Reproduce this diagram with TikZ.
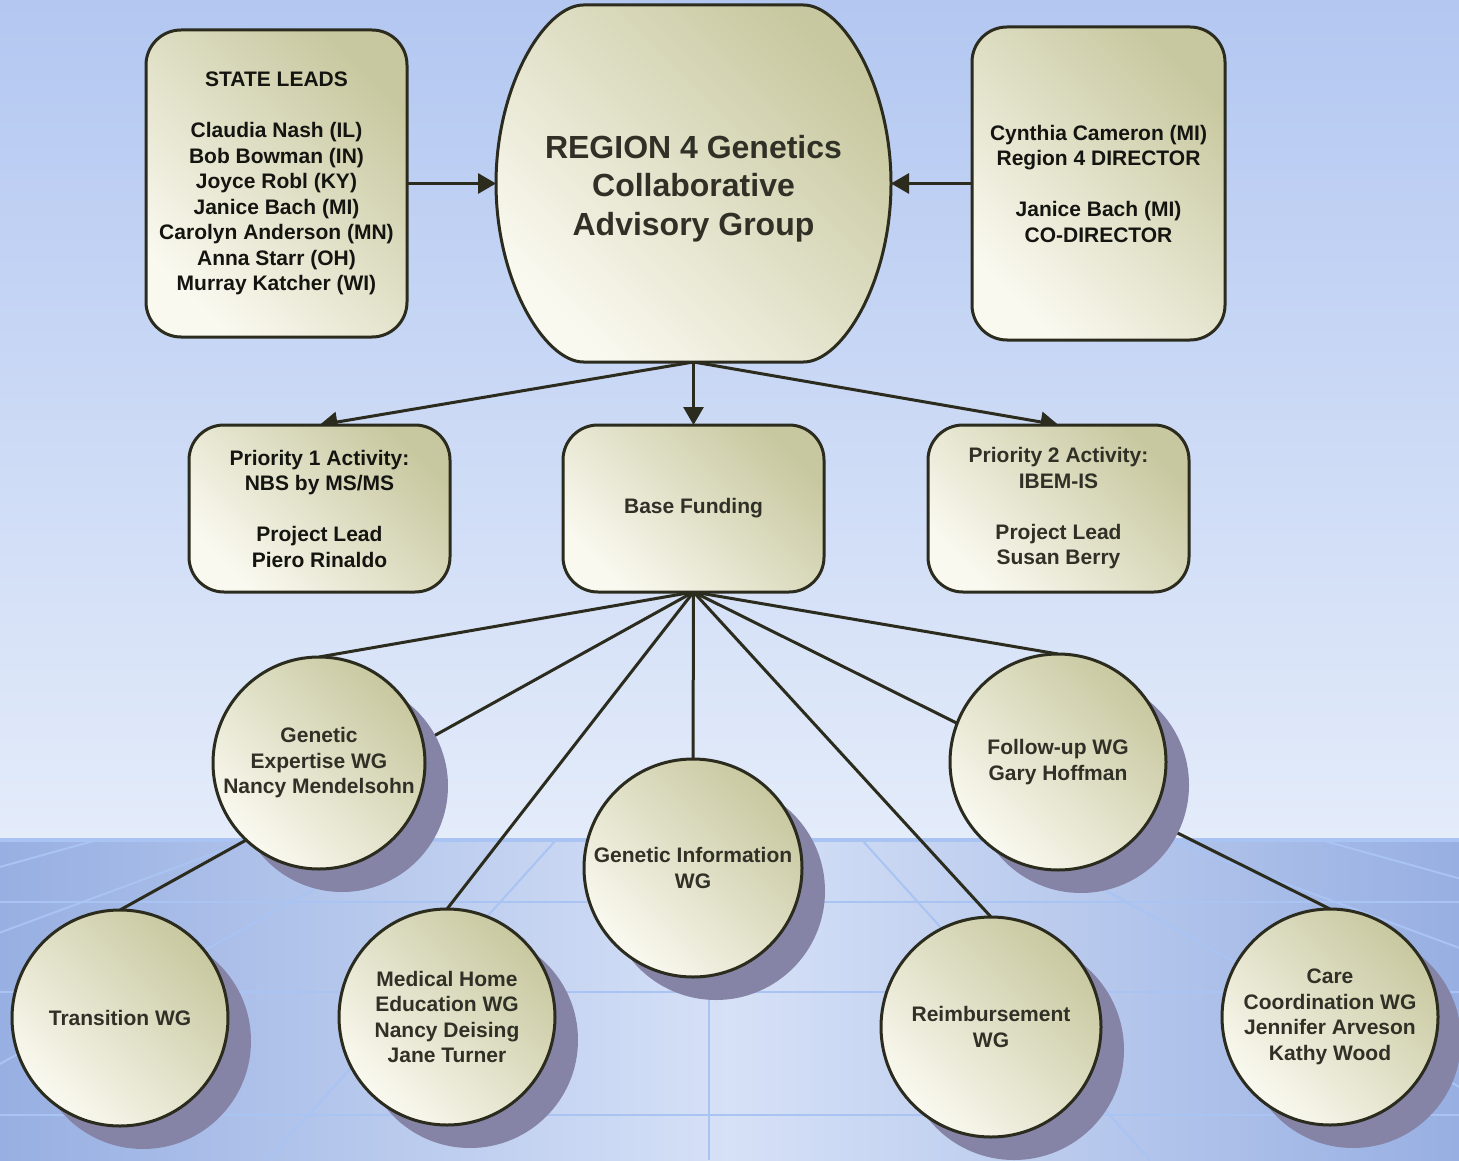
\documentclass[tikz,border=0pt]{standalone}
\usepackage{fontspec}
\setmainfont{Liberation Sans}
\usetikzlibrary{arrows.meta,shadows}
\definecolor{skyTop}{HTML}{B3C7F1}
\definecolor{skyBot}{HTML}{E4ECFA}
\definecolor{floorEdge}{HTML}{97AFE2}
\definecolor{floorMid}{HTML}{D6E1F7}
\definecolor{gridc}{HTML}{A9C3F3}
\definecolor{edgec}{HTML}{2B2B1E}
\definecolor{shadeD}{HTML}{C8C8A0}
\definecolor{shadeM}{HTML}{D8D7B7}
\definecolor{shadeL}{HTML}{FAF9F0}
\definecolor{shadc}{HTML}{8584A7}
\definecolor{txtA}{HTML}{141410}
\definecolor{txtB}{HTML}{303027}
\newcommand\boxfont{\fontsize{10.5}{12.75}\selectfont\bfseries}
\newcommand\titlefont{\fontsize{16}{19.3}\selectfont\bfseries}
\pgfdeclarelayer{floor}
\pgfdeclarelayer{edges}
\pgfsetlayers{floor,edges,main}
\begin{document}
\begin{tikzpicture}[x=0.5pt,y=-0.5pt,
  fillshade/.style={top color=shadeD, middle color=shadeM, bottom color=shadeL, shading angle=-45},
  box/.style={rectangle, draw=edgec, line width=1.5pt, rounded corners=17.5pt, fillshade,
    align=center, font=\boxfont, inner sep=0pt, outer sep=0pt},
  wg/.style={circle, draw=edgec, line width=1.5pt, fillshade,
    drop shadow={shadow xshift=11.5pt, shadow yshift=-11.5pt, fill=shadc, opacity=1},
    align=center, font=\boxfont, text=txtB, inner sep=0pt, outer sep=0pt},
  conn/.style={draw=edgec, line width=1.5pt},
  arr/.style={conn, -{Triangle[length=9pt,width=10pt]}},
  gridline/.style={draw=gridc, line width=1pt}]
\useasboundingbox (0,0) rectangle (1459,1160);
% background
\begin{pgfonlayer}{floor}
  \shade[top color=skyTop, bottom color=skyBot] (0,0) rectangle (1459,840);
  \shade[left color=floorEdge, right color=floorEdge, middle color=floorMid] (0,840) rectangle (1459,1160);
  \begin{scope}
    \clip (0,840) rectangle (1459,1160);
    \foreach \k in {-5,...,5} {
      \draw[gridline] ({709+153*\k},840) -- ({709+441*\k},1160);
    }
    \foreach \yy in {902,992,1115} {
      \draw[gridline, line width=1.2pt] (0,\yy) -- (1459,\yy);
    }
  \end{scope}
  \draw[gridline, line width=1.6pt] (0,840) -- (1459,840);
\end{pgfonlayer}
% central shape
\path[draw=edgec, line width=1.5pt, fillshade]
  (583.5,5) -- (803.5,5) .. controls (842,5) and (891,85) .. (891,183.5)
  .. controls (891,282) and (842,362) .. (803.5,362) -- (583.5,362)
  .. controls (545,362) and (496,282) .. (496,183.5)
  .. controls (496,85) and (545,5) .. (583.5,5) -- cycle;
\node[inner sep=0pt, outer sep=0pt, minimum width=197.5pt, minimum height=178.5pt,
  label={[font=\titlefont, text=txtB, align=center, inner sep=0pt, yshift=-2.5pt]center:{REGION 4 Genetics\\Collaborative\\Advisory Group}}]
  (cen) at (693.5,183.5) {};
% boxes
\node[box, text=txtA, minimum width=130.5pt, minimum height=153.5pt] (lead) at (276.5,183.5)
  {STATE LEADS\\[12.75pt]Claudia Nash (IL)\\Bob Bowman (IN)\\Joyce Robl (KY)\\Janice Bach (MI)\\Carolyn Anderson (MN)\\Anna Starr (OH)\\Murray Katcher (WI)};
\node[box, text=txtA, minimum width=126.5pt, minimum height=156.5pt] (dir) at (1098.5,183.5)
  {Cynthia Cameron (MI)\\Region 4 DIRECTOR\\[12.75pt]Janice Bach (MI)\\CO-DIRECTOR};
\node[box, text=txtA, minimum width=130.5pt, minimum height=83.5pt] (p1) at (319.5,508.5)
  {Priority 1 Activity:\\NBS by MS/MS\\[12.75pt]Project Lead\\Piero Rinaldo};
\node[box, text=txtB, minimum width=130.5pt, minimum height=83.5pt] (base) at (693.5,508.5)
  {Base Funding};
\node[box, text=txtB, minimum width=130.5pt, minimum height=83.5pt] (p2) at (1058.5,508.5)
  {Priority 2 Activity:\\IBEM-IS\\[12.75pt]Project Lead\\Susan Berry};
% working groups
\node[wg, minimum size=106pt] (ge) at (319,763) {Genetic\\Expertise WG\\Nancy Mendelsohn};
\node[wg, minimum size=108pt] (fu) at (1058,762) {Follow-up WG\\Gary Hoffman};
\node[wg, minimum size=109pt] (gi) at (693,868) {Genetic Information\\WG};
\node[wg, minimum size=108pt] (tr) at (120,1018) {Transition WG};
\node[wg, minimum size=108pt] (mh) at (447,1017) {Medical Home\\Education WG\\Nancy Deising\\Jane Turner};
\node[wg, minimum size=110pt] (re) at (991,1027) {Reimbursement\\WG};
\node[wg, minimum size=108pt] (cc) at (1330,1017) {Care\\Coordination WG\\Jennifer Arveson\\Kathy Wood};
% connectors
\begin{pgfonlayer}{edges}
  \draw[arr] (lead.east) -- (cen.west);
  \draw[arr] (dir.west) -- (cen.east);
  \draw[arr] (cen.south) -- (p1.north);
  \draw[arr] (cen.south) -- (base.north);
  \draw[arr] (cen.south) -- (p2.north);
  \foreach \t in {ge,fu,gi,tr,mh,re,cc} {
    \draw[conn] (base.south) -- (\t.north);
  }
\end{pgfonlayer}
\end{tikzpicture}
\end{document}
